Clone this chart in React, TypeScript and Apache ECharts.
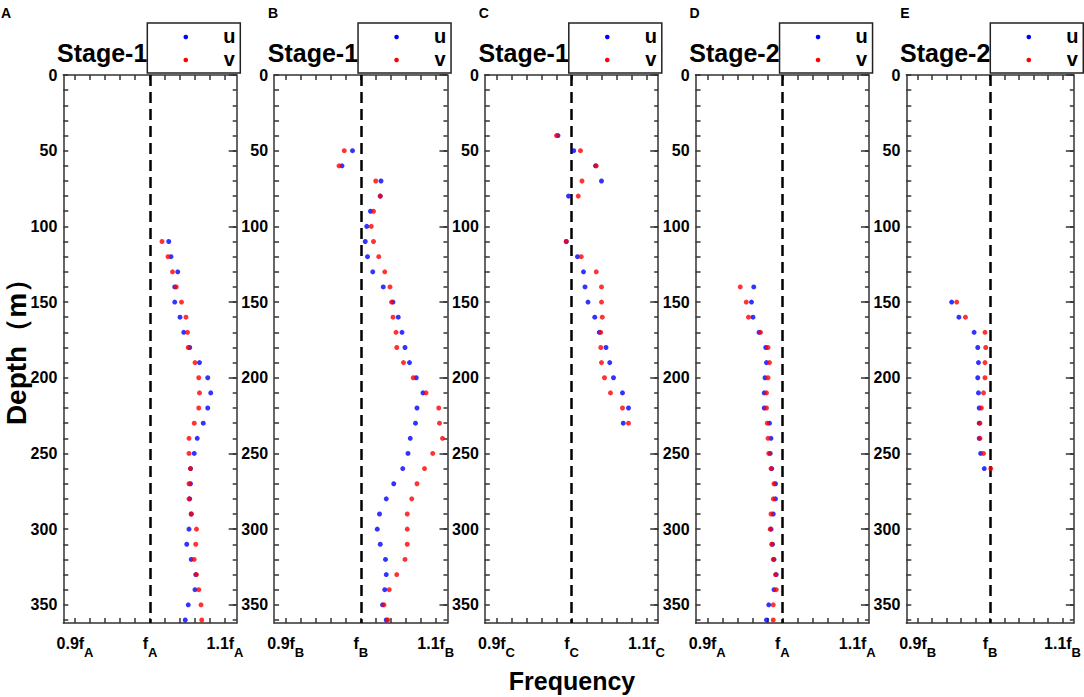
import React, { useEffect, useRef } from "react";
import * as echarts from "echarts";

const panelLetters = ["A", "B", "C", "D", "E"];
const stageTitles = ["Stage-1", "Stage-1", "Stage-1", "Stage-2", "Stage-2"];
const freqSubs = ["A", "B", "C", "A", "B"];
const seriesNames = ["u", "v"];

const depthTickLabels = [0, 50, 100, 150, 200, 250, 300, 350];
const depthMinorTicks = [0, 10, 20, 30, 40, 50, 60, 70, 80, 90, 100, 110, 120, 130, 140, 150, 160, 170, 180, 190, 200, 210, 220, 230, 240, 250, 260, 270, 280, 290, 300, 310, 320, 330, 340, 350, 360];
const freqTickLabels = [0.9, 1.0, 1.1];
const freqMinorTicks = [0.9, 0.92, 0.94, 0.96, 0.98, 1.0, 1.02, 1.04, 1.06, 1.08, 1.1];

// Panel A
const depthsA = [110, 120, 130, 140, 150, 160, 170, 180, 190, 200, 210, 220, 230, 240, 250, 260, 270, 280, 290, 300, 310, 320, 330, 340, 350, 360];
const uA = [1.025, 1.028, 1.037, 1.033, 1.033, 1.040, 1.045, 1.053, 1.066, 1.077, 1.081, 1.077, 1.071, 1.063, 1.059, 1.054, 1.054, 1.053, 1.055, 1.052, 1.049, 1.055, 1.061, 1.060, 1.051, 1.047];
const vA = [1.016, 1.024, 1.030, 1.035, 1.042, 1.048, 1.050, 1.051, 1.060, 1.065, 1.066, 1.065, 1.059, 1.052, 1.052, 1.054, 1.052, 1.052, 1.055, 1.062, 1.061, 1.059, 1.062, 1.065, 1.068, 1.069];

// Panel B
const depthsB = [50, 60, 70, 80, 90, 100, 110, 120, 130, 140, 150, 160, 170, 180, 190, 200, 210, 220, 230, 240, 250, 260, 270, 280, 290, 300, 310, 320, 330, 340, 350, 360];
const uB = [0.989, 0.975, 1.027, 1.026, 1.013, 1.008, 1.006, 1.009, 1.016, 1.030, 1.043, 1.050, 1.055, 1.059, 1.065, 1.074, 1.083, 1.075, 1.073, 1.066, 1.063, 1.056, 1.044, 1.034, 1.025, 1.022, 1.026, 1.033, 1.034, 1.032, 1.029, 1.034];
const vB = [0.978, 0.971, 1.020, 1.026, 1.017, 1.014, 1.017, 1.024, 1.032, 1.039, 1.041, 1.043, 1.047, 1.048, 1.057, 1.070, 1.087, 1.104, 1.105, 1.109, 1.096, 1.085, 1.075, 1.068, 1.062, 1.062, 1.062, 1.059, 1.048, 1.038, 1.031, 1.036];

// Panel C
const depthsC = [40, 50, 60, 70, 80, 110, 120, 130, 140, 150, 160, 170, 180, 190, 200, 210, 220, 230];
const uC = [0.982, 1.003, 1.032, 1.040, 0.996, 0.993, 1.008, 1.016, 1.018, 1.022, 1.031, 1.037, 1.046, 1.051, 1.056, 1.068, 1.076, 1.069];
const vC = [0.980, 1.012, 1.033, 1.014, 1.009, 0.993, 1.013, 1.033, 1.040, 1.040, 1.041, 1.039, 1.039, 1.040, 1.044, 1.052, 1.068, 1.076];

// Panel D
const depthsD = [140, 150, 160, 170, 180, 190, 200, 210, 220, 230, 240, 250, 260, 270, 280, 290, 300, 310, 320, 330, 340, 350, 360];
const uD = [0.962, 0.959, 0.961, 0.969, 0.978, 0.979, 0.977, 0.976, 0.976, 0.983, 0.985, 0.984, 0.986, 0.991, 0.991, 0.988, 0.985, 0.987, 0.989, 0.992, 0.989, 0.982, 0.979];
const vD = [0.944, 0.952, 0.955, 0.971, 0.981, 0.983, 0.981, 0.979, 0.979, 0.980, 0.981, 0.982, 0.985, 0.989, 0.988, 0.985, 0.984, 0.986, 0.988, 0.991, 0.992, 0.988, 0.988];

// Panel E
const depthsE = [150, 160, 170, 180, 190, 200, 210, 220, 230, 240, 250, 260];
const uE = [0.947, 0.957, 0.978, 0.983, 0.984, 0.983, 0.984, 0.985, 0.985, 0.985, 0.987, 0.992];
const vE = [0.954, 0.966, 0.993, 0.994, 0.993, 0.993, 0.991, 0.988, 0.986, 0.986, 0.991, 1.001];

const panelDepths = [depthsA, depthsB, depthsC, depthsD, depthsE];
const panelU = [uA, uB, uC, uD, uE];
const panelV = [vA, vB, vC, vD, vE];

const FONT = "'Liberation Sans', Arial, sans-serif";
const AXIS_COLOR = "#333";

function buildOption() {
  const gridLeft0 = 63.3;
  const gridStep = 210.75;
  const gridW = 173.4;
  const gridTop = 75;
  const gridH = 548;
  const xMin = 0.8844;
  const xMax = 1.1156;
  const yMax = 362;

  const grids: any[] = [];
  const xAxes: any[] = [];
  const yAxes: any[] = [];
  const series: any[] = [];
  const graphics: any[] = [];

  const lineStyle = { color: AXIS_COLOR, width: 1.5 };

  panelLetters.forEach((letter, i) => {
    const left = gridLeft0 + gridStep * i;
    grids.push({ left, top: gridTop, width: gridW, height: gridH, containLabel: false });
    const sub = freqSubs[i];
    xAxes.push({
      gridIndex: i,
      type: "value",
      position: "bottom",
      min: xMin,
      max: xMax,
      axisLine: { show: true, onZero: false, lineStyle },
      axisTick: { show: true, inside: true, length: 5, customValues: freqMinorTicks, lineStyle },
      axisLabel: {
        show: true,
        margin: 11,
        customValues: freqTickLabels,
        formatter: (v: number) => {
          if (Math.abs(v - 1) < 1e-6) return `{m|f}{s|${sub}}`;
          if (v < 1) return `{m|0.9f}{s|${sub}}`;
          return `{m|1.1f}{s|${sub}}`;
        },
        rich: {
          m: { fontSize: 16, fontWeight: "bold", fontFamily: FONT, color: "#000", padding: [0, 0, 6, 0] },
          s: { fontSize: 13, fontWeight: "bold", fontFamily: FONT, color: "#000", padding: [12, 0, 0, 0] },
        },
      },
      splitLine: { show: false },
    });
    xAxes.push({
      gridIndex: i,
      type: "value",
      position: "top",
      min: xMin,
      max: xMax,
      axisLine: { show: true, onZero: false, lineStyle },
      axisTick: { show: true, inside: true, length: 5, customValues: freqMinorTicks, lineStyle },
      axisLabel: { show: false },
      splitLine: { show: false },
    });
    yAxes.push({
      gridIndex: i,
      type: "value",
      position: "left",
      inverse: true,
      min: 0,
      max: yMax,
      axisLine: { show: true, onZero: false, lineStyle },
      axisTick: { show: true, inside: true, length: 5, customValues: depthMinorTicks, lineStyle },
      axisLabel: {
        show: true,
        margin: 6,
        customValues: depthTickLabels,
        fontSize: 16,
        fontWeight: "bold",
        fontFamily: FONT,
        color: "#000",
      },
      splitLine: { show: false },
    });
    yAxes.push({
      gridIndex: i,
      type: "value",
      position: "right",
      inverse: true,
      min: 0,
      max: yMax,
      axisLine: { show: true, onZero: false, lineStyle },
      axisTick: { show: true, inside: true, length: 8, customValues: depthTickLabels, lineStyle },
      axisLabel: { show: false },
      splitLine: { show: false },
    });
    yAxes.push({
      gridIndex: i,
      type: "value",
      position: "right",
      inverse: true,
      min: 0,
      max: yMax,
      axisLine: { show: false },
      axisTick: { show: true, inside: true, length: 4, customValues: depthMinorTicks, lineStyle },
      axisLabel: { show: false },
      splitLine: { show: false },
    });

    const depths = panelDepths[i];
    const u = panelU[i];
    const v = panelV[i];
    series.push({
      type: "scatter",
      name: seriesNames[0],
      xAxisIndex: i * 2,
      yAxisIndex: i * 3,
      symbol: "circle",
      symbolSize: 5,
      itemStyle: { color: "#0000ff" },
      data: depths.map((d, k) => [u[k], d]),
      markLine: {
        silent: true,
        symbol: ["none", "none"],
        label: { show: false },
        lineStyle: { color: "#000", width: 2.5, type: [11, 6] },
        data: [{ xAxis: 1 }],
        z: 1,
      },
      z: 3,
    });
    series.push({
      type: "scatter",
      name: seriesNames[1],
      xAxisIndex: i * 2,
      yAxisIndex: i * 3,
      symbol: "circle",
      symbolSize: 5,
      itemStyle: { color: "#ff0000" },
      data: depths.map((d, k) => [v[k], d]),
      z: 4,
    });

    graphics.push({
      type: "text",
      x: i === 0 ? 1 : left - 6,
      y: 13,
      style: { text: letter, font: `bold 14px ${FONT}`, fill: "#000", textAlign: "left", textVerticalAlign: "middle" },
    });
    graphics.push({
      type: "text",
      x: left + 84,
      y: 53,
      style: { text: stageTitles[i], font: `bold 25px ${FONT}`, fill: "#000", textAlign: "right", textVerticalAlign: "middle" },
    });
    graphics.push({
      type: "rect",
      shape: { x: left + 84, y: 23, width: 93, height: 50 },
      style: { fill: "#fff", stroke: "#222", lineWidth: 1.5 },
      z: 10,
    });
    graphics.push({
      type: "circle",
      shape: { cx: left + 122.5, cy: 37, r: 2.3 },
      style: { fill: "#0000ff" },
      z: 11,
    });
    graphics.push({
      type: "circle",
      shape: { cx: left + 122.5, cy: 60, r: 2.3 },
      style: { fill: "#ff0000" },
      z: 11,
    });
    graphics.push({
      type: "text",
      x: left + 166,
      y: 36,
      style: { text: seriesNames[0], font: `bold 20px ${FONT}`, fill: "#000", textAlign: "center", textVerticalAlign: "middle" },
      z: 11,
    });
    graphics.push({
      type: "text",
      x: left + 166,
      y: 59,
      style: { text: seriesNames[1], font: `bold 20px ${FONT}`, fill: "#000", textAlign: "center", textVerticalAlign: "middle" },
      z: 11,
    });
  });

  graphics.push({
    type: "text",
    x: 572,
    y: 681,
    style: { text: "Frequency", font: `bold 25px ${FONT}`, fill: "#000", textAlign: "center", textVerticalAlign: "middle" },
  });
  graphics.push({
    type: "text",
    x: 16,
    y: 345,
    rotation: Math.PI / 2,
    style: { text: "Depth（m）", font: `bold 28px ${FONT}`, fill: "#000", textAlign: "center", textVerticalAlign: "middle" },
  });

  return {
    animation: false,
    backgroundColor: "#fff",
    grid: grids,
    xAxis: xAxes,
    yAxis: yAxes,
    series,
    graphic: graphics,
  };
}

export default function App() {
  const ref = useRef<HTMLDivElement>(null);
  useEffect(() => {
    document.body.style.margin = "0";
    if (!ref.current) return;
    const chart = echarts.init(ref.current, undefined, { renderer: "svg" });
    chart.setOption(buildOption() as any);
    return () => {
      chart.dispose();
    };
  }, []);
  return <div ref={ref} style={{ width: 1084, height: 697 }} />;
}
